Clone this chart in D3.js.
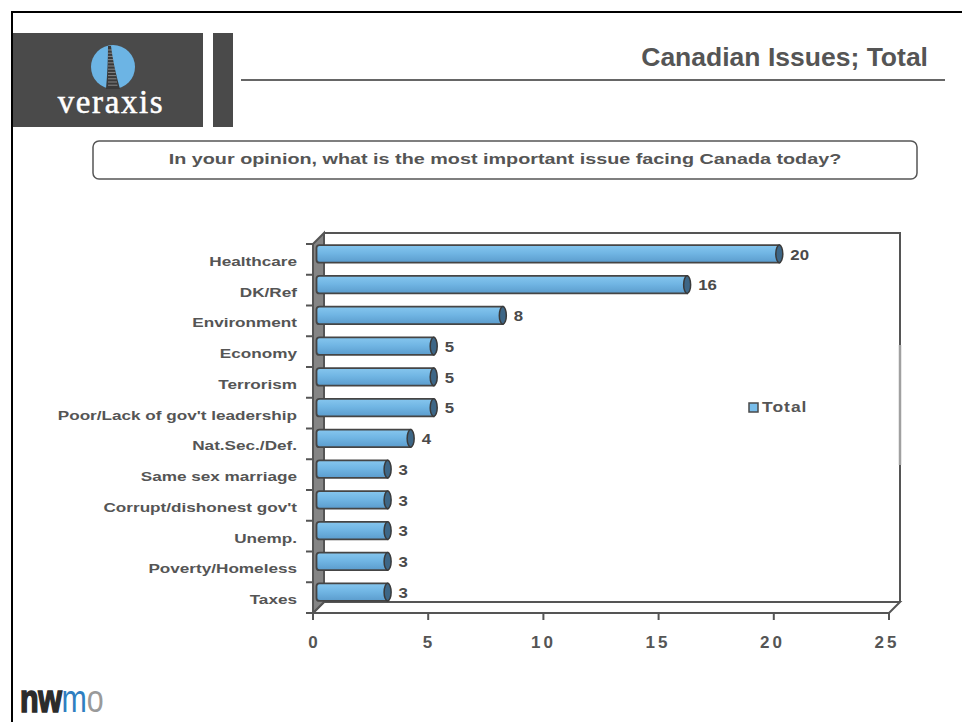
<!DOCTYPE html>
<html>
<head>
<meta charset="utf-8">
<script src="https://cdn.jsdelivr.net/npm/d3@7"></script>
<style>
  html, body { margin: 0; padding: 0; background: #fff; }
  svg { display: block; }
</style>
</head>
<body>
<svg id="chart" width="962" height="722"></svg>
<script>
// Survey results: most important issue facing Canada (percent, Total)
const categories = [
  "Healthcare", "DK/Ref", "Environment", "Economy", "Terrorism",
  "Poor/Lack of gov't leadership", "Nat.Sec./Def.", "Same sex marriage",
  "Corrupt/dishonest gov't", "Unemp.", "Poverty/Homeless", "Taxes"
];
const totals = [20, 16, 8, 5, 5, 5, 4, 3, 3, 3, 3, 3];
const xTicks = [0, 5, 10, 15, 20, 25];
const seriesName = "Total";

const svg = d3.select("#chart");
const FONT = "'Liberation Sans', Arial, Helvetica, sans-serif";
const GREY_TEXT = "#555";
const LINE = "#555";
const WIDE = 1.24;   // slide text is rendered slightly stretched horizontally

// text helper: places a string at (x,y) and widens it by sx around its anchor
function label(parent, px, py, str, opts) {
  const o = Object.assign({size: 14, anchor: "start", sx: WIDE, fill: GREY_TEXT, weight: "bold", spacing: 0, baseline: "auto"}, opts);
  return parent.append("text")
    .attr("transform", `translate(${px},${py}) scale(${o.sx},1)`)
    .attr("text-anchor", o.anchor)
    .attr("dominant-baseline", o.baseline)
    .attr("font-family", FONT).attr("font-weight", o.weight).attr("font-size", o.size)
    .attr("letter-spacing", o.spacing)
    .attr("fill", o.fill)
    .text(str);
}

// ---------- page frame ----------
svg.append("path")
  .attr("d", "M12,722 L12,12 L962,12")
  .attr("fill", "none").attr("stroke", "#000").attr("stroke-width", 2);

// ---------- veraxis header ----------
const logo = svg.append("g");
logo.append("rect").attr("x", 13).attr("y", 33).attr("width", 190).attr("height", 94).attr("fill", "#4a4a4a");
logo.append("rect").attr("x", 213).attr("y", 33).attr("width", 20).attr("height", 94).attr("fill", "#4a4a4a");
logo.append("circle").attr("cx", 113).attr("cy", 67).attr("r", 22).attr("fill", "#6cb4e4");
// stylised tower inside the disc
logo.append("path")
  .attr("d", "M108,46 L111,46 Q113,64 120,89 L106,89 Q108,66 108,46 Z")
  .attr("fill", "#3a3a3a");
for (let i = 0; i < 12; i++) {
  const yy = 50 + i * 3.2;
  logo.append("line")
    .attr("x1", 108).attr("x2", 112 + i * 0.5)
    .attr("y1", yy).attr("y2", yy)
    .attr("stroke", "#9a9a9a").attr("stroke-width", 0.8);
}
logo.append("text")
  .attr("x", 111).attr("y", 113)
  .attr("text-anchor", "middle")
  .attr("font-family", "'Liberation Serif', 'DejaVu Serif', serif")
  .attr("font-size", 33).attr("letter-spacing", 1.6)
  .attr("fill", "#fff").attr("stroke", "#fff").attr("stroke-width", 0.5)
  .text("veraxis");

// title and rule
svg.append("line").attr("x1", 241).attr("x2", 945).attr("y1", 80).attr("y2", 80)
  .attr("stroke", "#666").attr("stroke-width", 2);
label(svg, 928, 66, "Canadian Issues; Total", {size: 26, anchor: "end", sx: 1.02});

// question box
svg.append("rect").attr("x", 93).attr("y", 141).attr("width", 824).attr("height", 38)
  .attr("rx", 6).attr("fill", "#fff").attr("stroke", "#555").attr("stroke-width", 1.5);
label(svg, 505, 164, "In your opinion, what is the most important issue facing Canada today?",
  {size: 15, anchor: "middle", sx: 1.32});

// ---------- 3D bar chart ----------
const x = d3.scaleLinear().domain([0, 25]).range([313, 889]);
const y = d3.scaleBand().domain(categories).range([244, 613]);
const DX = 11, DY = 11;              // depth offset of the back wall
const bw = y.bandwidth();
const barH = bw * 0.57;

const x0 = x(0), x1 = x(25), yT = y.range()[0], yB = y.range()[1];

const defs = svg.append("defs");
const grad = defs.append("linearGradient").attr("id", "barGrad")
  .attr("x1", 0).attr("y1", 0).attr("x2", 0).attr("y2", 1);
grad.append("stop").attr("offset", "0%").attr("stop-color", "#86c6ee");
grad.append("stop").attr("offset", "45%").attr("stop-color", "#71b6e4");
grad.append("stop").attr("offset", "100%").attr("stop-color", "#5b9ccd");

const frame = svg.append("g");
// back wall outline
frame.append("path")
  .attr("d", `M${x0 + DX},${yT - DY} L${x1 + DX},${yT - DY} L${x1 + DX},${yB - DY}`)
  .attr("fill", "none").attr("stroke", LINE).attr("stroke-width", 2);
// lighter stretch of the right edge behind the legend
frame.append("line")
  .attr("x1", x1 + DX).attr("x2", x1 + DX).attr("y1", 345).attr("y2", 465)
  .attr("stroke", "#a0a0a0").attr("stroke-width", 2.5);
// floor
frame.append("path")
  .attr("d", `M${x0 + DX},${yB - DY} L${x1 + DX},${yB - DY} L${x1},${yB} L${x0},${yB} Z`)
  .attr("fill", "#fff").attr("stroke", LINE).attr("stroke-width", 2);
// left wall
frame.append("path")
  .attr("d", `M${x0},${yT} L${x0 + DX},${yT - DY} L${x0 + DX},${yB - DY} L${x0},${yB} Z`)
  .attr("fill", "#858585").attr("stroke", LINE).attr("stroke-width", 2);

// category axis (ticks at band boundaries)
const yAxisG = svg.append("g");
const bounds = categories.map(c => y(c)).concat([yB]);
yAxisG.selectAll("line.tick").data(bounds).join("line")
  .attr("x1", x0 - 7).attr("x2", x0).attr("y1", d => d).attr("y2", d => d)
  .attr("stroke", LINE).attr("stroke-width", 2);
categories.forEach(c => {
  label(yAxisG, 297, y(c) + bw / 2 + 3, c, {size: 13.5, anchor: "end", baseline: "middle", sx: 1.27});
});

// value axis
const xAxisG = svg.append("g");
xAxisG.selectAll("line").data(xTicks).join("line")
  .attr("x1", d => x(d)).attr("x2", d => x(d)).attr("y1", yB).attr("y2", yB + 7)
  .attr("stroke", LINE).attr("stroke-width", 2);
xTicks.forEach(t => {
  label(xAxisG, x(t) - t * 0.14 + 1.5, 648, String(t), {size: 17, anchor: "middle", sx: 1, spacing: 3});
});

// bars (cylinders sitting at half depth)
const rows = categories.map((c, i) => ({c, v: totals[i]}));
const barsG = svg.append("g");
const bars = barsG.selectAll("g").data(rows).join("g");
const yc = d => y(d.c) + bw / 2 - DY / 2;
const xs = x0 + DX / 2 - 2;
const xe = d => x(d.v) + DX / 2;
bars.append("path")
  .attr("d", d => {
    const t = yc(d) - barH / 2, b = yc(d) + barH / 2, e = xe(d), r = 3;
    return `M${xs + r},${t} L${e},${t} L${e},${b} L${xs + r},${b} Q${xs},${b} ${xs},${b - r} L${xs},${t + r} Q${xs},${t} ${xs + r},${t} Z`;
  })
  .attr("fill", "url(#barGrad)").attr("stroke", "#454545").attr("stroke-width", 1.8);
bars.append("ellipse")
  .attr("cx", d => xe(d)).attr("cy", d => yc(d))
  .attr("rx", 3.5).attr("ry", barH / 2)
  .attr("fill", "#3d6686").attr("stroke", "#3a3a3a").attr("stroke-width", 1.5);
rows.forEach(d => {
  label(barsG, xe(d) + 11, yc(d) + 2, String(d.v), {size: 14, baseline: "middle", sx: 1.2, fill: "#4a4a4a"});
});

// legend
const lg = svg.append("g").attr("transform", "translate(749,403)");
lg.append("rect").attr("width", 9).attr("height", 9)
  .attr("fill", "#78bdea").attr("stroke", "#4a4a4a").attr("stroke-width", 1.5);
label(lg, 13, 5.5, seriesName, {size: 14, baseline: "middle", sx: 1.25, spacing: 0.8});

// ---------- nwmo mark ----------
const nw = svg.append("text")
  .attr("transform", "translate(20,712) scale(0.8,1)")
  .attr("font-family", FONT).attr("font-size", 38);
nw.append("tspan").attr("font-weight", "900").attr("fill", "#2b2b2b")
  .attr("stroke", "#2b2b2b").attr("stroke-width", 1.6).attr("letter-spacing", -0.5).text("nw");
nw.append("tspan").attr("fill", "#2f7fc1").attr("font-weight", "normal").text("m");
nw.append("tspan").attr("fill", "#9a9a9a").attr("font-weight", "normal").text("o");
</script>
</body>
</html>
